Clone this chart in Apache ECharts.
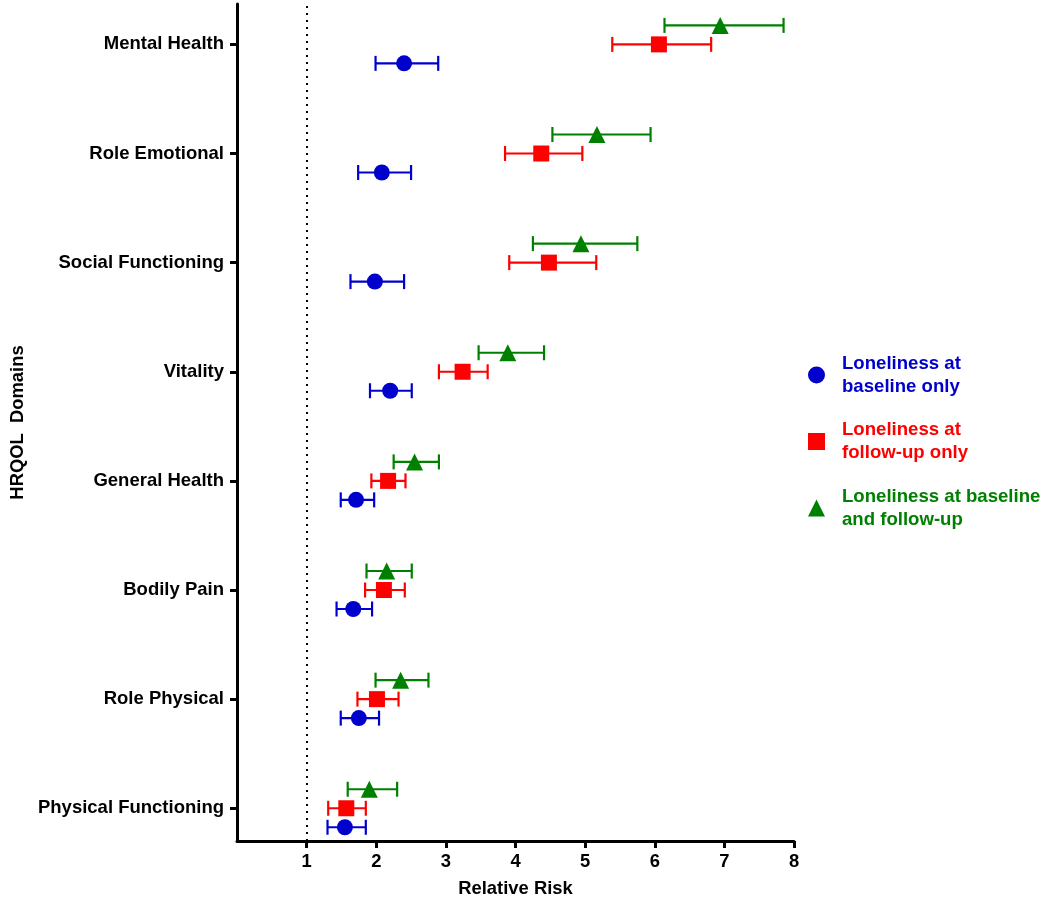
<!DOCTYPE html>
<html>
<head>
<meta charset="utf-8">
<script src="https://cdn.jsdelivr.net/npm/echarts@6/dist/echarts.min.js"></script>
<style>
  html, body { margin: 0; padding: 0; background: #fff; }
  #chart { width: 1050px; height: 908px; }
</style>
</head>
<body>
<div id="chart"></div>
<script>
// ---- Data (bottom to top) ----
const categories = ['Physical Functioning', 'Role Physical', 'Bodily Pain', 'General Health',
                    'Vitality', 'Social Functioning', 'Role Emotional', 'Mental Health'];
const xTicks = [1, 2, 3, 4, 5, 6, 7, 8];
const seriesNames = ['Loneliness at\nbaseline only', 'Loneliness at\nfollow-up only', 'Loneliness at baseline\nand follow-up'];

const blueRR   = [1.55, 1.75, 1.67, 1.71, 2.20, 1.98, 2.08, 2.40];
const blueLow  = [1.30, 1.49, 1.43, 1.49, 1.91, 1.63, 1.74, 1.99];
const blueHigh = [1.85, 2.04, 1.94, 1.97, 2.51, 2.40, 2.50, 2.89];

const redRR    = [1.57, 2.01, 2.11, 2.17, 3.24, 4.48, 4.37, 6.06];
const redLow   = [1.31, 1.73, 1.84, 1.93, 2.90, 3.91, 3.85, 5.39];
const redHigh  = [1.85, 2.32, 2.41, 2.42, 3.60, 5.16, 4.96, 6.81];

const greenRR   = [1.90, 2.35, 2.15, 2.55, 3.89, 4.94, 5.17, 6.94];
const greenLow  = [1.59, 1.99, 1.86, 2.25, 3.47, 4.25, 4.53, 6.14];
const greenHigh = [2.30, 2.75, 2.51, 2.90, 4.41, 5.75, 5.94, 7.85];

// ---- Styling ----
const BLUE = '#0000CC', RED = '#FF0000', GREEN = '#008000';
const FONT = 'Liberation Sans, Arial, sans-serif';
const OFF = 0.174; // vertical offset within a domain row

function errSeries(name, low, high, off, color) {
  return {
    type: 'custom',
    name: name + '_err',
    z: 2,
    silent: true,
    data: low.map((l, i) => [l, high[i], i + off]),
    encode: { x: [0, 1], y: 2 },
    renderItem: function (params, api) {
      const y = api.value(2);
      const p1 = api.coord([api.value(0), y]);
      const p2 = api.coord([api.value(1), y]);
      const h = 7.5;
      const style = { stroke: color, lineWidth: 2.2 };
      return {
        type: 'group',
        children: [
          { type: 'line', shape: { x1: p1[0], y1: p1[1], x2: p2[0], y2: p2[1] }, style: style },
          { type: 'line', shape: { x1: p1[0], y1: p1[1] - h, x2: p1[0], y2: p1[1] + h }, style: style },
          { type: 'line', shape: { x1: p2[0], y1: p2[1] - h, x2: p2[0], y2: p2[1] + h }, style: style }
        ]
      };
    }
  };
}

function pointSeries(name, vals, off, color, symbol, size) {
  return {
    type: 'scatter',
    name: name,
    z: 5,
    symbol: symbol,
    symbolSize: size,
    itemStyle: { color: color, opacity: 1 },
    data: vals.map((v, i) => [v, i + off])
  };
}

const chart = echarts.init(document.getElementById('chart'), null, { renderer: 'canvas' });
const ticks = categories.map((c, i) => i);

const option = {
  animation: false,
  backgroundColor: '#fff',
  grid: { left: 237, right: 256, top: 4, bottom: 67, containLabel: false },
  legend: {
    orient: 'vertical',
    left: 803,
    top: 347,
    itemWidth: 17,
    itemHeight: 17,
    itemGap: 20.5,
    selectedMode: false,
    textStyle: { fontFamily: FONT, fontWeight: 'bold', fontSize: 18.6, lineHeight: 23, padding: [0, 0, 0, 12] },
    data: [
      { name: seriesNames[0], icon: 'circle', textStyle: { color: BLUE } },
      { name: seriesNames[1], icon: 'rect', textStyle: { color: RED } },
      { name: seriesNames[2], icon: 'triangle', textStyle: { color: GREEN } }
    ]
  },
  xAxis: {
    type: 'value',
    min: 0,
    max: 8,
    interval: 1,
    name: 'Relative Risk',
    nameLocation: 'middle',
    nameGap: 39,
    nameTextStyle: { fontFamily: FONT, fontWeight: 'bold', fontSize: 18.4, color: '#000' },
    axisLine: { show: true, onZero: false, lineStyle: { color: '#000', width: 3 } },
    axisTick: { show: true, inside: false, length: 7, customValues: xTicks, lineStyle: { color: '#000', width: 3 } },
    axisLabel: {
      customValues: xTicks,
      fontFamily: FONT, fontWeight: 'bold', fontSize: 18.4, color: '#000', margin: 12,
      formatter: function (v) { return xTicks.indexOf(v) >= 0 ? String(v) : ''; }
    },
    splitLine: { show: false }
  },
  yAxis: {
    type: 'value',
    min: -0.3,
    max: 7.37,
    name: 'HRQOL  Domains',
    nameLocation: 'middle',
    nameGap: 210,
    nameRotate: 90,
    nameTextStyle: { fontFamily: FONT, fontWeight: 'bold', fontSize: 18.4, color: '#000' },
    axisLine: { show: true, onZero: false, lineStyle: { color: '#000', width: 3 } },
    axisTick: { show: true, inside: false, length: 7, customValues: ticks, lineStyle: { color: '#000', width: 3 } },
    axisLabel: {
      customValues: ticks,
      fontFamily: FONT, fontWeight: 'bold', fontSize: 18.5, color: '#000', margin: 13,
      formatter: function (v) { return categories[Math.round(v)] || ''; }
    },
    splitLine: { show: false }
  },
  series: [
    errSeries('blue', blueLow, blueHigh, -OFF, BLUE),
    errSeries('red', redLow, redHigh, 0, RED),
    errSeries('green', greenLow, greenHigh, OFF, GREEN),
    Object.assign(pointSeries(seriesNames[0], blueRR, -OFF, BLUE, 'circle', 16), {
      markLine: {
        silent: true,
        symbol: 'none',
        label: { show: false },
        lineStyle: { color: '#000', width: 2, type: [2, 5] },
        data: [{ xAxis: 1 }]
      }
    }),
    pointSeries(seriesNames[1], redRR, 0, RED, 'rect', 16),
    pointSeries(seriesNames[2], greenRR, OFF, GREEN, 'triangle', 17)
  ]
};
chart.setOption(option);
</script>
</body>
</html>
